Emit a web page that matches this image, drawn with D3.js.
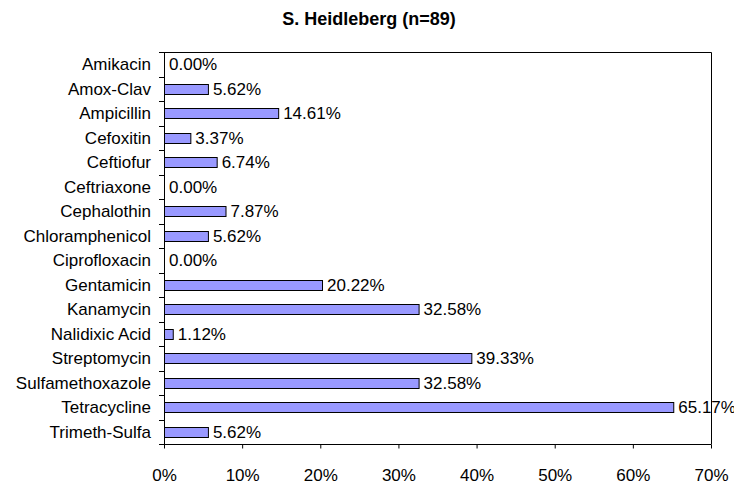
<!DOCTYPE html>
<html>
<head>
<meta charset="utf-8">
<script src="https://cdn.jsdelivr.net/npm/d3@7"></script>
<style>
  body { margin: 0; background: #fff; }
  svg { display: block; font-family: "Liberation Sans", Arial, sans-serif; }
</style>
</head>
<body>
<svg width="734" height="482"></svg>
<script>
var categories = ['Amikacin', 'Amox-Clav', 'Ampicillin', 'Cefoxitin', 'Ceftiofur', 'Ceftriaxone',
	'Cephalothin', 'Chloramphenicol', 'Ciprofloxacin', 'Gentamicin', 'Kanamycin', 'Nalidixic Acid',
	'Streptomycin', 'Sulfamethoxazole', 'Tetracycline', 'Trimeth-Sulfa'];
var values = [0.00, 5.62, 14.61, 3.37, 6.74, 0.00, 7.87, 5.62, 0.00, 20.22, 32.58, 1.12,
	39.33, 32.58, 65.17, 5.62];
var xTicks = [0, 10, 20, 30, 40, 50, 60, 70];

var svg = d3.select('svg'),
	plotLeft = 164, plotRight = 711, plotTop = 52, plotBottom = 444;

var x = d3.scaleLinear().domain([0, 70]).range([plotLeft, plotRight]);
var y = d3.scaleBand().domain(categories).range([plotTop, plotBottom]).paddingInner(0.58).paddingOuter(0.29);

// plot area border (top and right)
svg.append('path')
	.attr('d', 'M' + plotLeft + ',' + (plotTop + 0.5) + 'H' + (plotRight + 0.5) + 'V' + plotBottom)
	.attr('fill', 'none')
	.attr('stroke', '#000');

// bars
svg.selectAll('rect.bar')
	.data(values)
	.enter().append('rect')
		.attr('class', 'bar')
		.attr('x', x(0) + 0.5)
		.attr('y', function(d, i){ return Math.round(y(categories[i])) + 0.5; })
		.attr('width', function(d){ return x(d) - x(0); })
		.attr('height', Math.round(y.bandwidth()))
		.attr('fill', '#9999ff')
		.attr('stroke', '#000')
		.attr('stroke-width', 1);

// value labels
svg.selectAll('text.val')
	.data(values)
	.enter().append('text')
		.attr('class', 'val')
		.attr('x', function(d){ return x(d) + 5; })
		.attr('y', function(d, i){ return y(categories[i]) + y.bandwidth() / 2; })
		.attr('dy', '0.36em')
		.attr('font-size', 17)
		.attr('fill', '#000')
		.text(function(d){ return d.toFixed(2) + '%'; });

// y axis: ticks between categories
var yAxisG = svg.append('g');
yAxisG.append('line')
	.attr('x1', plotLeft + 0.5).attr('x2', plotLeft + 0.5)
	.attr('y1', plotTop).attr('y2', plotBottom)
	.attr('stroke', '#000');
d3.range(categories.length + 1).forEach(function(i){
	var yy = Math.round(plotTop + i * (plotBottom - plotTop) / categories.length) + 0.5;
	yAxisG.append('line')
		.attr('x1', plotLeft - 5).attr('x2', plotLeft + 0.5)
		.attr('y1', yy).attr('y2', yy)
		.attr('stroke', '#000');
});
yAxisG.selectAll('text')
	.data(categories)
	.enter().append('text')
		.attr('x', plotLeft - 13)
		.attr('y', function(d){ return y(d) + y.bandwidth() / 2; })
		.attr('dy', '0.36em')
		.attr('text-anchor', 'end')
		.attr('font-size', 17)
		.text(function(d){ return d; });

// x axis
var xAxis = d3.axisBottom(x)
	.tickValues(xTicks)
	.tickSize(4)
	.tickPadding(20)
	.tickFormat(function(d){ return d + '%'; });

var xg = svg.append('g')
	.attr('transform', 'translate(0,' + (plotBottom + 0.5) + ')')
	.call(xAxis);
xg.select('.domain').attr('stroke', '#000').attr('d', 'M' + plotLeft + ',0H' + (plotRight + 0.5));
xg.selectAll('.tick line').attr('stroke', '#000');
xg.selectAll('.tick text')
	.attr('font-size', 17)
	.attr('font-family', '"Liberation Sans", Arial, sans-serif')
	.attr('fill', '#000');

// title
svg.append('text')
	.attr('x', 369)
	.attr('y', 25)
	.attr('text-anchor', 'middle')
	.attr('font-size', 18)
	.attr('font-weight', 'bold')
	.text('S. Heidleberg (n=89)');
</script>
</body>
</html>
